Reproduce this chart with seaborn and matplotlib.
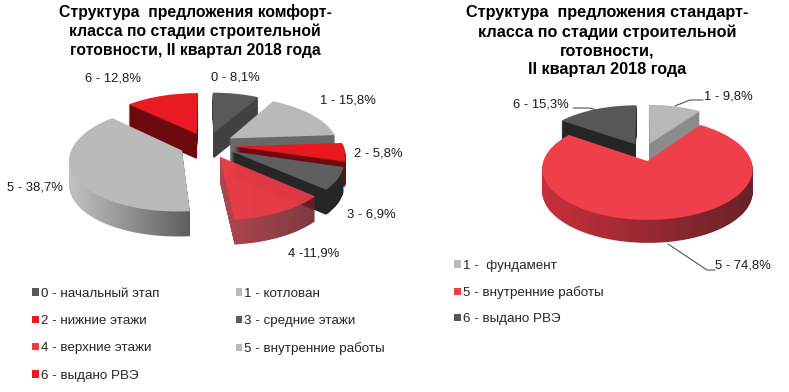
import matplotlib
matplotlib.use('Agg')
import matplotlib.pyplot as plt
import matplotlib.transforms as mtransforms
from matplotlib.colors import LinearSegmentedColormap
from matplotlib.patches import PathPatch, Patch
from matplotlib.path import Path
import numpy as np
import seaborn as sns

sns.set_theme(style='white')
plt.rcParams['font.family'] = ['Liberation Sans', 'DejaVu Sans']

# left pie
comfort_values = [8.1, 15.8, 5.8, 6.9, 11.9, 38.7, 12.8]
comfort_labels = ['0 - 8,1%', '1 - 15,8%', '2 - 5,8%', '3 - 6,9%', '4 -11,9%', '5 - 38,7%', '6 - 12,8%']
comfort_legend = ['0 - начальный этап', '1 - котлован', '2 - нижние этажи', '3 - средние этажи',
                  '4 - верхние этажи', '5 - внутренние работы', '6 - выдано РВЭ']
comfort_top = ['#595959', '#b9b9b9', '#e8181f', '#5f5f5f', '#ef3c47', '#bababa', '#ea1a22']
comfort_side = ['#414141', '#686868', '#6e0a10', '#262626', ('#a82c36', '#6a1f27'), ('#c4c4c4', '#5e5e5e'), '#6d0a10']
comfort_title = 'Структура  предложения комфорт-\nкласса по стадии строительной\nготовности, II квартал 2018 года'

# right pie
standard_values = [9.8, 74.8, 15.3]
standard_labels = ['1 - 9,8%', '5 - 74,8%', '6 - 15,3%']
standard_legend = ['1 -  фундамент', '5 - внутренние работы', '6 - выдано РВЭ']
standard_top = ['#b9b9b9', '#ef3f4a', '#575757']
standard_side = ['#8b8b8b', ('#c9303c', '#682229'), '#252525']
standard_title = 'Структура  предложения стандарт-\nкласса по стадии строительной\nготовности,\nII квартал 2018 года'


class Tilt(mtransforms.Transform):
    # flat pie units -> pixels, with a bit of perspective
    input_dims = 2
    output_dims = 2

    def __init__(self, cx, cy, rx, ry, k=0.15):
        super().__init__()
        self.cx, self.cy, self.rx, self.ry, self.k = cx, cy, rx, ry, k

    def transform_non_affine(self, values):
        values = np.asarray(values)
        f = 1 / (1 + self.k * values[:, 1])
        return np.column_stack([self.cx + self.rx * values[:, 0] * f,
                                self.cy - self.ry * values[:, 1] * f])


def draw_pie(ax, values, top, side, explode, tilt, depth, order, alpha=None):
    wedges, _ = ax.pie(values, explode=[explode] * len(values), colors=top, startangle=90,
                       counterclock=False, wedgeprops={'linewidth': 0})
    for i, w in enumerate(wedges):
        z = 2 + 2 * order.index(i)
        a = (alpha or {}).get(i)
        path = w.get_path()
        verts = tilt.transform_non_affine(path.vertices)
        # the side is the top face pushed down, layer by layer
        layers = [Path(verts + [0, d], path.codes) for d in np.arange(1, depth + 1)]
        wall = PathPatch(Path.make_compound_path(*layers), linewidth=0, zorder=z, alpha=a)
        if isinstance(side[i], tuple):
            wall.set_facecolor('none')
            ax.add_patch(wall)
            cmap = LinearSegmentedColormap.from_list('wall', side[i])
            im = ax.imshow(np.linspace(0, 1, 256)[None, :], cmap=cmap, aspect='auto', zorder=z, alpha=a,
                           extent=[verts[:, 0].min(), verts[:, 0].max(), verts[:, 1].max() + depth, verts[:, 1].min()])
            im.set_clip_path(wall)
        else:
            wall.set_facecolor(side[i])
            ax.add_patch(wall)
        w.set_transform(tilt + ax.transData)
        w.set_zorder(z + 1)
        if a:
            w.set_alpha(a)


fig = plt.figure(figsize=(7.89, 3.92), dpi=100)
ax = fig.add_axes([0, 0, 1, 1])

draw_pie(ax, comfort_values, comfort_top, comfort_side, 0.25, Tilt(207, 145, 109, 50), 25,
         [0, 6, 1, 2, 3, 5, 4], alpha={4: 0.88})
draw_pie(ax, standard_values, standard_top, standard_side, 0.19, Tilt(644, 152, 101, 47), 23, [2, 0, 1])

ax.set_aspect('auto')
ax.set_xlim(0, 789)
ax.set_ylim(392, 0)
ax.axis('off')

ax.text(195, 31, comfort_title, ha='center', va='center', fontsize=11.35, fontweight='bold', linespacing=1.29, color='black')
ax.text(607, 41, standard_title, ha='center', va='center', fontsize=11.7, fontweight='bold', linespacing=1.3, color='black')

label_pos = [(235, 77), (348, 100), (378, 153), (371, 214), (314, 253), (35, 187), (113, 78)]
for lab, (x, y) in zip(comfort_labels, label_pos):
    ax.text(x, y, lab, ha='center', va='center', fontsize=9.4, color='#1a1a1a')

label_pos = [(728, 96), (743, 266), (541, 104)]
for lab, (x, y) in zip(standard_labels, label_pos):
    ax.text(x, y, lab, ha='center', va='center', fontsize=9.4, color='#1a1a1a')

# leader lines, right pie only
for xs, ys in [([675, 690, 703], [106, 100, 100]),
               ([596, 590, 573], [110, 108, 108]),
               ([668, 707, 715], [244, 270, 270])]:
    ax.plot(xs, ys, color='#555555', lw=0.8, zorder=20)

# legends, matplotlib fills by column so reorder to get the rows right
idx = [0, 2, 4, 6, 1, 3, 5]
handles = [Patch(color=comfort_top[i], linewidth=0, label=comfort_legend[i]) for i in idx]
leg = ax.legend(handles=handles, ncol=2, loc='upper left', bbox_to_anchor=(32 / 789, 1 - 288 / 392),
                frameon=False, fontsize=9.6, handlelength=0.5, handleheight=0.5, handletextpad=0.15,
                labelspacing=1.14, columnspacing=5.75, borderpad=0, borderaxespad=0)
ax.add_artist(leg)
handles = [Patch(color=standard_top[i], linewidth=0, label=standard_legend[i]) for i in range(3)]
ax.legend(handles=handles, loc='upper left', bbox_to_anchor=(454 / 789, 1 - 260 / 392),
          frameon=False, fontsize=9.6, handlelength=0.5, handleheight=0.5, handletextpad=0.15,
          labelspacing=1.06, borderpad=0, borderaxespad=0)

fig.savefig('out.png', dpi=100, facecolor='white')
